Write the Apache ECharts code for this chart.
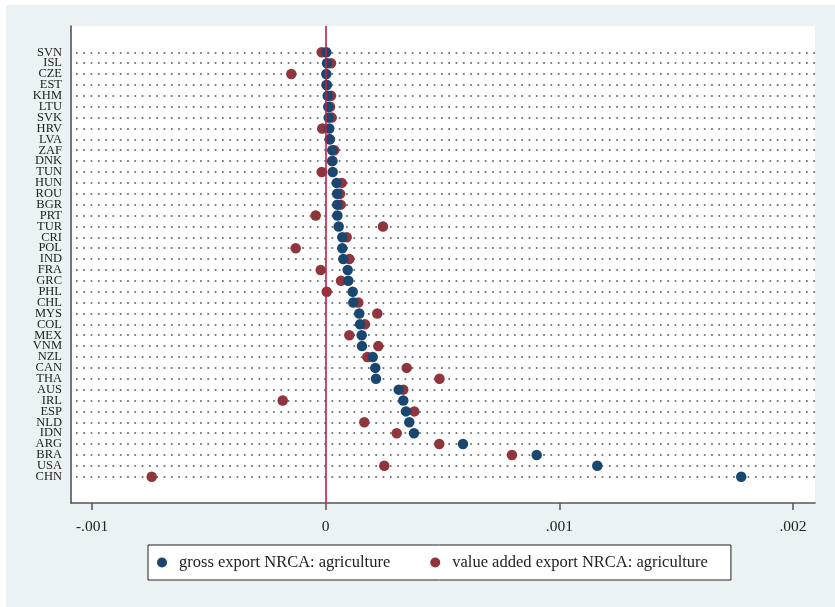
<!DOCTYPE html>
<html>
<head>
<meta charset="utf-8">
<script src="https://cdn.jsdelivr.net/npm/echarts@6/dist/echarts.min.js"></script>
<style>
  html, body { margin: 0; padding: 0; background: #ffffff; }
  #chart { position: absolute; left: 6px; top: 5px; width: 829px; height: 602px; }
</style>
</head>
<body>
<div id="chart"></div>
<script>
// Countries, ordered by gross export NRCA (agriculture)
const countries = ['SVN','ISL','CZE','EST','KHM','LTU','SVK','HRV','LVA','ZAF',
  'DNK','TUN','HUN','ROU','BGR','PRT','TUR','CRI','POL','IND',
  'FRA','GRC','PHL','CHL','MYS','COL','MEX','VNM','NZL','CAN',
  'THA','AUS','IRL','ESP','NLD','IDN','ARG','BRA','USA','CHN'];

// Gross export NRCA: agriculture
const grossNRCA = [2.6e-6, 5.6e-6, 2.6e-6, 4.3e-6, 8.6e-6, 1.11e-5, 1.28e-5, 1.54e-5, 1.71e-5, 2.8e-5,
  2.9e-5, 3.0e-5, 4.7e-5, 4.9e-5, 4.95e-5, 5.0e-5, 5.56e-5, 7.1e-5, 7.1e-5, 7.53e-5,
  9.41e-5, 9.67e-5, 1.155e-4, 1.181e-4, 1.438e-4, 1.468e-4, 1.54e-4, 1.553e-4, 2.011e-4, 2.122e-4,
  2.152e-4, 3.124e-4, 3.32e-4, 3.436e-4, 3.577e-4, 3.778e-4, 5.875e-4, 9.029e-4, 1.1622e-3, 1.7783e-3];

// Value added export NRCA: agriculture
const valueAddedNRCA = [-1.71e-5, 2.27e-5, -1.472e-4, 4.0e-6, 2.27e-5, 1.84e-5, 2.57e-5, -1.45e-5, 1.8e-5, 3.68e-5,
  2.7e-5, -1.71e-5, 6.85e-5, 6.12e-5, 6.42e-5, -4.28e-5, 2.452e-4, 8.99e-5, -1.284e-4, 1.01e-4,
  -2.14e-5, 6.55e-5, 4.3e-6, 1.395e-4, 2.208e-4, 1.682e-4, 1.01e-4, 2.251e-4, 1.78e-4, 3.466e-4,
  4.869e-4, 3.32e-4, -1.84e-4, 3.791e-4, 1.652e-4, 3.038e-4, 4.861e-4, 7.972e-4, 2.507e-4, -7.445e-4];

// X-axis tick values and their labels
const xTicks = [-0.001, 0, 0.001, 0.002];
const xTickLabels = ['-.001', '0', '.001', '.002'];

const seriesNames = ['gross export NRCA: agriculture', 'value added export NRCA: agriculture'];

// One row per country; blank guard rows at both ends keep the edge labels from being dropped
const rowIndex = countries.map((_, i) => i);
const rowLabelIndex = [-1].concat(rowIndex, [countries.length]);
const serif = 'Liberation Serif';

const chart = echarts.init(document.getElementById('chart'), null, { renderer: 'canvas' });

chart.setOption({
  backgroundColor: '#eaf2f3',
  animation: false,
  grid: {
    left: 65, top: 21, width: 744, height: 477,
    show: true, backgroundColor: '#ffffff', borderWidth: 0
  },
  xAxis: {
    type: 'value',
    position: 'bottom',
    min: -0.00109,
    max: 0.002094,
    axisLine: { show: true, onZero: false, lineStyle: { color: '#555555', width: 1.5 } },
    axisTick: { show: true, customValues: xTicks, length: 7, lineStyle: { color: '#555555', width: 1.5 } },
    axisLabel: {
      customValues: xTicks,
      margin: 16,
      fontFamily: serif, fontSize: 15.5, color: '#222222',
      formatter: (v) => {
        const k = xTicks.findIndex(t => Math.abs(t - v) < 1e-9);
        return k >= 0 ? xTickLabels[k] : '';
      }
    },
    splitLine: { show: false }
  },
  yAxis: {
    type: 'value',
    position: 'left',
    inverse: true,
    min: -2.417,
    max: 41.417,
    axisLine: { show: true, onZero: false, lineStyle: { color: '#4a4a4a', width: 1.5 } },
    axisTick: { show: false, customValues: rowIndex },
    axisLabel: {
      customValues: rowLabelIndex,
      margin: 9,
      fontFamily: serif, fontSize: 12.5, color: '#222222',
      formatter: (v) => countries[Math.round(v)] || ''
    },
    splitLine: {
      show: true,
      lineStyle: { color: '#505050', width: 1.7, type: [1.7, 5.6], dashOffset: 2.3 }
    }
  },
  legend: {
    left: 142, top: 540,
    orient: 'horizontal',
    data: seriesNames,
    icon: 'circle',
    itemWidth: 10, itemHeight: 10,
    itemGap: 40,
    padding: [9, 23, 9, 9],
    backgroundColor: '#ffffff',
    borderColor: '#222222', borderWidth: 1, borderRadius: 0,
    textStyle: { fontFamily: serif, fontSize: 16.5, color: '#222222', padding: [0, 0, 0, 7], lineHeight: 17 }
  },
  series: [
    {
      name: 'zero line',
      type: 'scatter',
      data: [],
      z: 1,
      silent: true,
      markLine: {
        silent: true,
        symbol: 'none',
        label: { show: false },
        lineStyle: { color: '#c41e45', width: 1.6, type: 'solid' },
        data: [{ xAxis: 0 }]
      }
    },
    {
      name: seriesNames[1],
      type: 'scatter',
      z: 3,
      symbolSize: 10.5,
      itemStyle: { color: '#90353b', opacity: 1 },
      data: valueAddedNRCA.map((v, i) => [v, i])
    },
    {
      name: seriesNames[0],
      type: 'scatter',
      z: 4,
      symbolSize: 10.5,
      itemStyle: { color: '#1a476f', opacity: 1 },
      data: grossNRCA.map((v, i) => [v, i])
    }
  ]
});
</script>
</body>
</html>
